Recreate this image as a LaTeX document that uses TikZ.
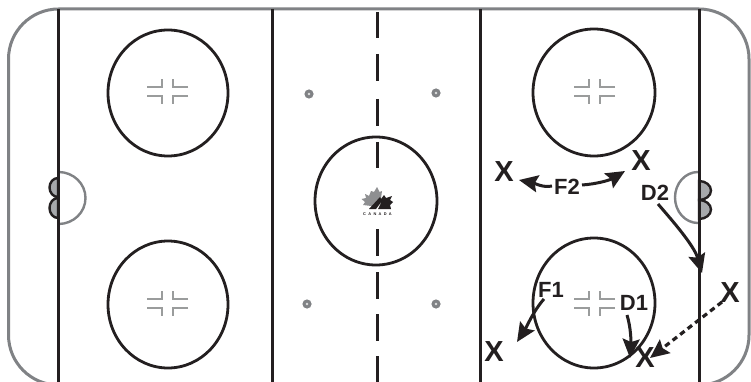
\documentclass[tikz,border=0pt]{standalone}
\usepackage{fontspec}
\setmainfont{Liberation Sans}
\usetikzlibrary{arrows.meta}
\definecolor{ink}{HTML}{231F20}
\definecolor{boards}{HTML}{808285}
\definecolor{hash}{HTML}{9A9C9C}
\definecolor{goalfill}{HTML}{A7A9AC}
\definecolor{leafgrey}{HTML}{8E8F91}
\tikzset{
  x=1pt,y=-1pt,
  boardline/.style={draw=boards,line width=3pt},
  rinkline/.style={draw=ink,line width=3pt},
  faceoff/.style={draw=ink,line width=2.8pt},
  hashmark/.style={draw=hash,line width=1.2pt},
  playerx/.style={font=\bfseries\fontsize{29}{29}\selectfont,text=ink,inner sep=0pt},
  tag/.style={font=\bfseries\fontsize{22}{22}\selectfont,text=ink,inner sep=0pt},
  move/.style={draw=ink,line width=3pt,-{Stealth[length=19pt,width=17pt,inset=3pt]}},
  pass/.style={move,line width=3.2pt,dash pattern=on 5.5pt off 4pt},
}
\newcommand{\hashes}[2]{%
  \begin{scope}[shift={(#1,#2)}]
    \draw[hashmark] (-21,-5) -- (-6,-5) -- (-6,-13);
    \draw[hashmark] (-21,4) -- (-6,4) -- (-6,12);
    \draw[hashmark] (20,-5) -- (5,-5) -- (5,-13);
    \draw[hashmark] (20,4) -- (5,4) -- (5,12);
  \end{scope}}
\newcommand{\spot}[2]{%
  \fill[boards] (#1,#2) circle[radius=4.6];
  \fill[white!75!boards] (#1,#2) circle[radius=1.3];}
\begin{document}
\begin{tikzpicture}
\path[use as bounding box] (0,0) rectangle (751,382);
\clip (0,0) rectangle (751,382);
\fill[white] (0,0) rectangle (751,382);
% boards
\draw[boardline,rounded corners=50pt] (8.5,9) rectangle (749,385);
% creases and goals
\draw[boardline,line width=2.4pt] (58.5,172) arc[start angle=-90,end angle=90,x radius=27,y radius=26];
\draw[boardline,line width=2.4pt] (698,172) arc[start angle=270,end angle=90,x radius=23,y radius=25.5];
\draw[rinkline,fill=goalfill,line width=2.4pt] (58,178) arc[start angle=270,end angle=90,x radius=8.5,y radius=9.5] -- cycle;
\draw[rinkline,fill=goalfill,line width=2.4pt] (58,198) arc[start angle=270,end angle=90,x radius=8.5,y radius=10] -- cycle;
\draw[rinkline,fill=goalfill,line width=2.4pt] (699,181) arc[start angle=-90,end angle=90,x radius=12,y radius=9.5] -- cycle;
\draw[rinkline,fill=goalfill,line width=2.4pt] (699,200) arc[start angle=-90,end angle=90,x radius=12,y radius=9.5] -- cycle;
% lines
\draw[rinkline] (58.5,9) -- (58.5,385);
\draw[rinkline] (272.5,9) -- (272.5,385);
\draw[rinkline] (480,9) -- (480,385);
\draw[rinkline] (699,9) -- (699,385);
% centre dashes
\foreach \a/\b in {12/38,54/81,99/126,142/168,229/256,272/299,314/341,356/382}
  \draw[rinkline] (377,\a) -- (377,\b);
% circles
\draw[faceoff] (168,93) ellipse[x radius=60,y radius=63];
\draw[faceoff] (168,304.5) ellipse[x radius=60,y radius=63.5];
\draw[faceoff] (594,92.5) ellipse[x radius=61,y radius=63.5];
\draw[faceoff] (594,303) ellipse[x radius=61,y radius=65];
\draw[faceoff] (376,201) ellipse[x radius=61,y radius=64];
% hash marks
\hashes{168}{92}
\hashes{168}{304}
\hashes{595}{92}
\hashes{595}{304}
% neutral spots
\spot{309}{94}
\spot{436}{93}
\spot{307}{304}
\spot{436}{304}
% logo
\fill[leafgrey] (377,187) -- (379.5,192) -- (382,191) -- (381,198) -- (376,205) -- (372,209)
  -- (371,206) -- (363,205) -- (365,202) -- (361.5,199) -- (366,198) -- (365,194) -- (369,196)
  -- (371,191) -- (374,192) -- cycle;
\fill[ink] (369,209) -- (380,197) -- (381,199) -- (384,195) -- (386,198) -- (392,196) -- (390,200)
  -- (393,202) -- (390,205) -- (391,209) -- (378,209) -- (382,201) -- (376,209) -- cycle;
\node[inner sep=0pt,text=ink,font=\bfseries\fontsize{3.9}{4}\selectfont\addfontfeature{LetterSpace=60}] (logotext) at (377.5,214) {CANADA};
% players and labels
\node[playerx] (xa) at (504,172) {X};
\node[playerx] (xb) at (641,161) {X};
\node[playerx] (xc) at (494,352) {X};
\node[playerx] (xd) at (730,293) {X};
\node[playerx] (xe) at (645,358) {X};
\node[tag] (ftwo) at (567,187) {F2};
\node[tag] (dtwo) at (655,193) {D2};
\node[tag] (fone) at (551,290) {F1};
\node[tag] (done) at (634,303) {D1};
% connectors
\draw[move] ([shift={(-15,-1)}]ftwo.center) .. controls (543,188) and (534,183) .. ([shift={(15,8)}]xa.center);
\draw[move] ([shift={(15,-2)}]ftwo.center) .. controls (597,184) and (610,180) .. ([shift={(-16,10)}]xb.center);
\draw[move] ([shift={(3,11)}]dtwo.center) .. controls (670,218) and (694,245) .. ([shift={(-28,-20)}]xd.center);
\draw[move] ([shift={(-7,9)}]fone.center) .. controls (534,310) and (526,328) .. ([shift={(23,-10)}]xc.center);
\draw[move] ([shift={(-7,12)}]done.center) .. controls (631,328) and (631,342) .. ([shift={(-15,0)}]xe.center);
\draw[pass] ([shift={(-8,9)}]xd.center) -- ([shift={(5,0)}]xe.center);
\end{tikzpicture}
\end{document}
